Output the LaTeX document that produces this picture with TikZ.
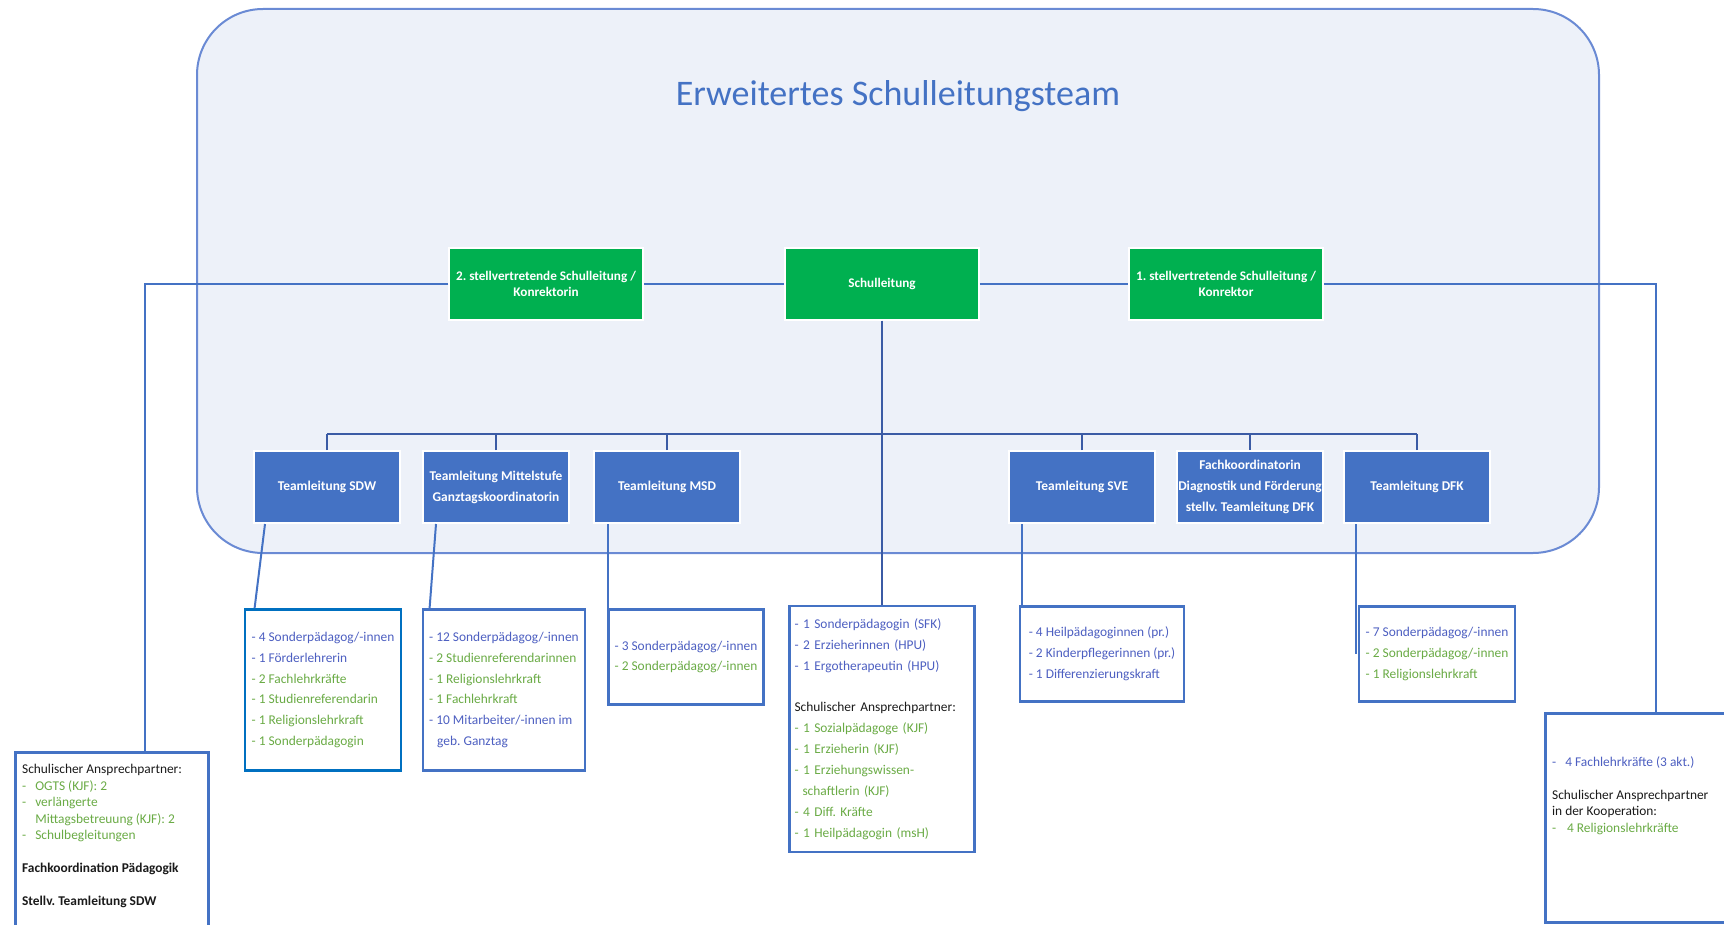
\documentclass[tikz,border=0pt]{standalone}
\usepackage{fontspec}
\setmainfont{Carlito}
\usepackage{tikz}
\usetikzlibrary{calc}
\frenchspacing

\definecolor{panelfill}{HTML}{EDF1F9}
\definecolor{paneldraw}{HTML}{6A8AD4}
\definecolor{leadgreen}{HTML}{00B050}
\definecolor{teamblue}{HTML}{4472C4}
\definecolor{treeblue}{HTML}{3B5BA5}
\definecolor{sdwblue}{HTML}{0070C0}
\definecolor{txtblue}{HTML}{4D5FC1}
\definecolor{txtgreen}{HTML}{6AAB45}
\definecolor{txtblack}{HTML}{1A1A1A}

\newcommand{\blu}[1]{\textcolor{txtblue}{#1}}
\newcommand{\grn}[1]{\textcolor{txtgreen}{#1}}

\begin{document}
\begin{tikzpicture}[x=0.5pt,y=-0.5pt]
   \useasboundingbox (0,0) rectangle (1724,925);
   \tikzstyle{lead}=[rectangle, fill=leadgreen, draw=white, line width=1pt, text=white, align=center, font=\bfseries\fontsize{6.6}{7.7}\selectfont, minimum width=96.75pt, minimum height=35.75pt, inner sep=1pt]
   \tikzstyle{team}=[rectangle, fill=teamblue, draw=white, line width=1pt, text=white, align=center, font=\bfseries\fontsize{6.7}{10.45}\selectfont, minimum width=73pt, minimum height=36pt, inner sep=0.5pt]
   \tikzstyle{staff}=[rectangle, fill=white, draw=teamblue, line width=1.4pt, text=txtblack, align=left, font=\fontsize{6.7}{10.45}\selectfont, inner xsep=2.5pt, inner ysep=1pt, minimum height=47.5pt]
   \tikzstyle{note}=[anchor=north west, inner sep=0pt, align=left, text=txtblack, font=\fontsize{6.7}{8.25}\selectfont]
   \tikzstyle{link}=[draw=teamblue, line width=1pt]
   \tikzstyle{tree}=[draw=treeblue, line width=1.2pt]

   % panel
   \draw[fill=panelfill, draw=paneldraw, line width=1pt, rounded corners=33pt] (197,9) rectangle (1599,553);
   \node[anchor=base, text=teamblue, font=\fontsize{18}{22}\selectfont] (title) at (898,106) {Erweitertes Schulleitungsteam};

   \node[lead] (ksl2) at (546,284) {2. stellvertretende Schulleitung /\\Konrektorin};
   \node[lead] (sl) at (882,284) {Schulleitung};
   \node[lead] (ksl1) at (1226,284) {1. stellvertretende Schulleitung /\\Konrektor};

   \node[team] (tsdw) at (327,487) {Teamleitung SDW};
   \node[team] (tmit) at (496,487) {Teamleitung Mittelstufe\\Ganztagskoordinatorin};
   \node[team] (tmsd) at (667,487) {Teamleitung MSD};
   \node[team] (tsve) at (1082,487) {Teamleitung SVE};
   \node[team] (tfko) at (1250,487) {Fachkoordinatorin\\Diagnostik und Förderung\\stellv. Teamleitung DFK};
   \node[team] (tdfk) at (1417,487) {Teamleitung DFK};

   % staff lists
   \node[staff, draw=sdwblue, minimum width=78pt, minimum height=80.5pt] (lsdw) at (323,690)
      {\blu{- 4 Sonderpädagog/-innen}\\\blu{- 1 Förderlehrerin}\\\grn{- 2 Fachlehrkräfte}\\\grn{- 1 Studienreferendarin}\\\grn{- 1 Religionslehrkraft}\\\grn{- 1 Sonderpädagogin}};
   \node[staff, minimum width=81pt, minimum height=80.5pt] (lmit) at (504,690)
      {\blu{- 12 Sonderpädagog/-innen}\\\grn{- 2 Studienreferendarinnen}\\\grn{- 1 Religionslehrkraft}\\\grn{- 1 Fachlehrkraft}\\\blu{- 10 Mitarbeiter/-innen im}\\\blu{\hspace*{4pt}geb. Ganztag}};
   \node[staff, minimum width=77.5pt] (lmsd) at (686,657)
      {\blu{- 3 Sonderpädagog/-innen}\\\grn{- 2 Sonderpädagog/-innen}};
   \node[staff, text width=87.5pt, minimum height=123pt] (lmid) at (882,729)
      {\blu{- 1 Sonderpädagogin (SFK)}\\\blu{- 2 Erzieherinnen (HPU)}\\\blu{- 1 Ergotherapeutin (HPU)}\\[10.45pt]
       Schulischer Ansprechpartner:\\\grn{- 1 Sozialpädagoge (KJF)}\\\grn{- 1 Erzieherin (KJF)}\\\grn{- 1 Erziehungswissen-}\\\grn{\hspace*{4pt}schaftlerin (KJF)}\\\grn{- 4 Diff. Kräfte}\\\grn{- 1 Heilpädagogin (msH)}};
   \node[staff, minimum width=82pt] (lsve) at (1102,654)
      {\blu{- 4 Heilpädagoginnen (pr.)}\\\blu{- 2 Kinderpflegerinnen (pr.)}\\\blu{- 1 Differenzierungskraft}};
   \node[staff, minimum width=78pt] (ldfk) at (1437,654)
      {\blu{- 7 Sonderpädagog/-innen}\\\grn{- 2 Sonderpädagog/-innen}\\\grn{- 1 Religionslehrkraft}};

   \node[staff, anchor=north west, minimum width=96.5pt, minimum height=120pt] (lleft) at (14,751) {};
   \node[note] (lefttext) at ([shift={(3.85pt,-6.5pt)}]lleft.north west)
      {Schulischer Ansprechpartner:\\\grn{\makebox[6.6pt][l]{-}OGTS (KJF): 2}\\\grn{\makebox[6.6pt][l]{-}verlängerte}\\\grn{\hspace*{6.6pt}Mittagsbetreuung (KJF): 2}\\\grn{\makebox[6.6pt][l]{-}Schulbegleitungen}\\[8.25pt]
       \textbf{Fachkoordination Pädagogik}\\[8.25pt]\textbf{Stellv. Teamleitung SDW}};
   \node[staff, anchor=north west, minimum width=128pt, minimum height=104.5pt] (lright) at (1544,712) {};
   \node[note] (righttext) at ([shift={(3.85pt,-22pt)}]lright.north west)
      {\blu{\makebox[6.6pt][l]{-}4 Fachlehrkräfte (3 akt.)}\\[8.25pt]Schulischer Ansprechpartner\\in der Kooperation:\\\grn{\makebox[7.5pt][l]{-}4 Religionslehrkräfte}};

   % connectors
   \draw[link] (ksl2) -- (sl);
   \draw[link] (sl) -- (ksl1);
   \draw[link] (ksl2.west) -| ([xshift=16.75pt]lleft.north);
   \draw[link] (ksl1.east) -| ([xshift=56pt]lright.north west);
   \coordinate (bar) at (882,434);
   \draw[tree] (sl) -- (lmid);
   \draw[tree] (tsdw.north |- bar) -- (tdfk.north |- bar);
   \foreach \t in {tsdw,tmit,tmsd,tsve,tfko,tdfk}
      \draw[tree] (\t.north) -- (\t.north |- bar);
   \draw[link] ([xshift=6pt]tsdw.south west) -- ([xshift=5.5pt]lsdw.north west);
   \draw[link] ([xshift=7pt]tmit.south west) -- ([xshift=4pt]lmit.north west);
   \coordinate (msdfoot) at ([xshift=7.25pt]tmsd.south west);
   \draw[link] (msdfoot) -- (msdfoot |- lmsd.west);
   \coordinate (svefoot) at ([xshift=7pt]tsve.south west);
   \draw[link] (svefoot) -- (svefoot |- lsve.north);
   \coordinate (dfkfoot) at ([xshift=6.5pt]tdfk.south west);
   \draw[link] (dfkfoot) -- (dfkfoot |- ldfk.west);
\end{tikzpicture}
\end{document}
